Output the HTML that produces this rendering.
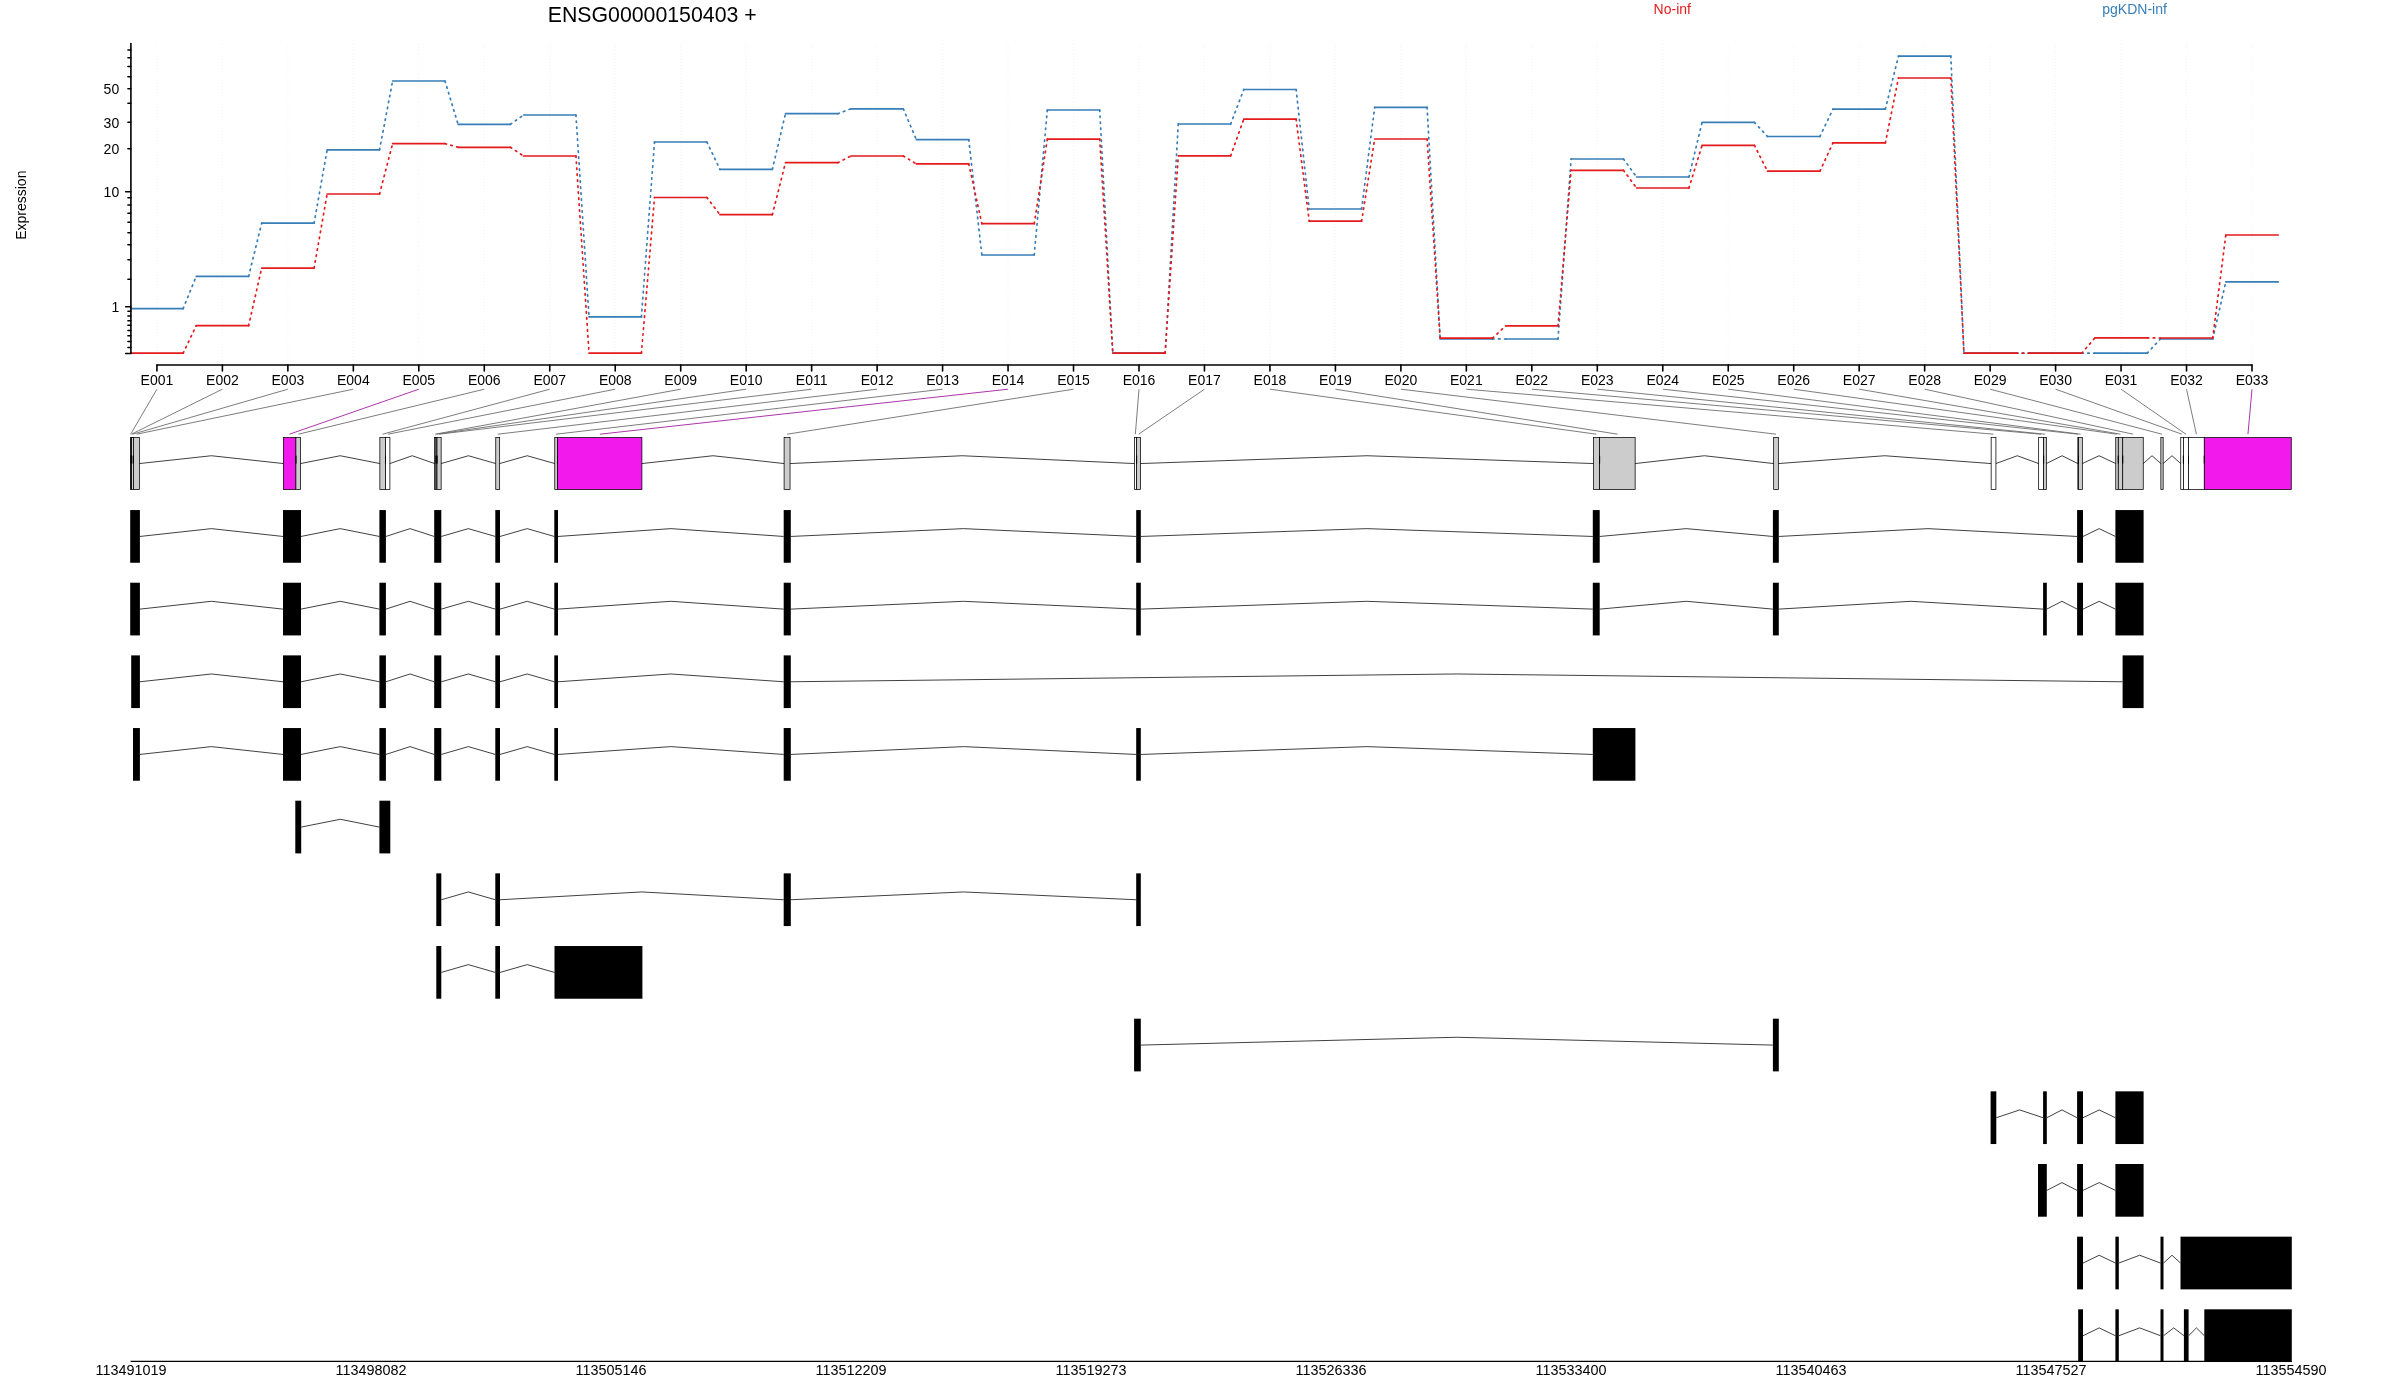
<!DOCTYPE html>
<html><head><meta charset="utf-8"><title>ENSG00000150403</title>
<style>html,body{margin:0;padding:0;background:#fff;}svg{display:block;will-change:transform;}text{font-family:"Liberation Sans", sans-serif;}</style>
</head><body>
<svg width="2400" height="1390" viewBox="0 0 2400 1390" font-family='"Liberation Sans", sans-serif' fill="#000">
<line x1="156.93" y1="44" x2="156.93" y2="364" stroke="#B3B3B3" stroke-opacity="0.28" stroke-width="0.75" stroke-dasharray="0.75 2.25"/>
<line x1="222.40" y1="44" x2="222.40" y2="364" stroke="#B3B3B3" stroke-opacity="0.28" stroke-width="0.75" stroke-dasharray="0.75 2.25"/>
<line x1="287.87" y1="44" x2="287.87" y2="364" stroke="#B3B3B3" stroke-opacity="0.28" stroke-width="0.75" stroke-dasharray="0.75 2.25"/>
<line x1="353.34" y1="44" x2="353.34" y2="364" stroke="#B3B3B3" stroke-opacity="0.28" stroke-width="0.75" stroke-dasharray="0.75 2.25"/>
<line x1="418.81" y1="44" x2="418.81" y2="364" stroke="#F219ED" stroke-opacity="0.18" stroke-width="0.75" stroke-dasharray="0.75 2.25"/>
<line x1="484.28" y1="44" x2="484.28" y2="364" stroke="#B3B3B3" stroke-opacity="0.28" stroke-width="0.75" stroke-dasharray="0.75 2.25"/>
<line x1="549.75" y1="44" x2="549.75" y2="364" stroke="#B3B3B3" stroke-opacity="0.28" stroke-width="0.75" stroke-dasharray="0.75 2.25"/>
<line x1="615.23" y1="44" x2="615.23" y2="364" stroke="#B3B3B3" stroke-opacity="0.28" stroke-width="0.75" stroke-dasharray="0.75 2.25"/>
<line x1="680.70" y1="44" x2="680.70" y2="364" stroke="#B3B3B3" stroke-opacity="0.28" stroke-width="0.75" stroke-dasharray="0.75 2.25"/>
<line x1="746.17" y1="44" x2="746.17" y2="364" stroke="#B3B3B3" stroke-opacity="0.28" stroke-width="0.75" stroke-dasharray="0.75 2.25"/>
<line x1="811.64" y1="44" x2="811.64" y2="364" stroke="#B3B3B3" stroke-opacity="0.28" stroke-width="0.75" stroke-dasharray="0.75 2.25"/>
<line x1="877.11" y1="44" x2="877.11" y2="364" stroke="#B3B3B3" stroke-opacity="0.28" stroke-width="0.75" stroke-dasharray="0.75 2.25"/>
<line x1="942.58" y1="44" x2="942.58" y2="364" stroke="#B3B3B3" stroke-opacity="0.28" stroke-width="0.75" stroke-dasharray="0.75 2.25"/>
<line x1="1008.05" y1="44" x2="1008.05" y2="364" stroke="#F219ED" stroke-opacity="0.18" stroke-width="0.75" stroke-dasharray="0.75 2.25"/>
<line x1="1073.52" y1="44" x2="1073.52" y2="364" stroke="#B3B3B3" stroke-opacity="0.28" stroke-width="0.75" stroke-dasharray="0.75 2.25"/>
<line x1="1138.99" y1="44" x2="1138.99" y2="364" stroke="#B3B3B3" stroke-opacity="0.28" stroke-width="0.75" stroke-dasharray="0.75 2.25"/>
<line x1="1204.46" y1="44" x2="1204.46" y2="364" stroke="#B3B3B3" stroke-opacity="0.28" stroke-width="0.75" stroke-dasharray="0.75 2.25"/>
<line x1="1269.94" y1="44" x2="1269.94" y2="364" stroke="#B3B3B3" stroke-opacity="0.28" stroke-width="0.75" stroke-dasharray="0.75 2.25"/>
<line x1="1335.41" y1="44" x2="1335.41" y2="364" stroke="#B3B3B3" stroke-opacity="0.28" stroke-width="0.75" stroke-dasharray="0.75 2.25"/>
<line x1="1400.88" y1="44" x2="1400.88" y2="364" stroke="#B3B3B3" stroke-opacity="0.28" stroke-width="0.75" stroke-dasharray="0.75 2.25"/>
<line x1="1466.35" y1="44" x2="1466.35" y2="364" stroke="#B3B3B3" stroke-opacity="0.28" stroke-width="0.75" stroke-dasharray="0.75 2.25"/>
<line x1="1531.82" y1="44" x2="1531.82" y2="364" stroke="#B3B3B3" stroke-opacity="0.28" stroke-width="0.75" stroke-dasharray="0.75 2.25"/>
<line x1="1597.29" y1="44" x2="1597.29" y2="364" stroke="#B3B3B3" stroke-opacity="0.28" stroke-width="0.75" stroke-dasharray="0.75 2.25"/>
<line x1="1662.76" y1="44" x2="1662.76" y2="364" stroke="#B3B3B3" stroke-opacity="0.28" stroke-width="0.75" stroke-dasharray="0.75 2.25"/>
<line x1="1728.23" y1="44" x2="1728.23" y2="364" stroke="#B3B3B3" stroke-opacity="0.28" stroke-width="0.75" stroke-dasharray="0.75 2.25"/>
<line x1="1793.70" y1="44" x2="1793.70" y2="364" stroke="#B3B3B3" stroke-opacity="0.28" stroke-width="0.75" stroke-dasharray="0.75 2.25"/>
<line x1="1859.17" y1="44" x2="1859.17" y2="364" stroke="#B3B3B3" stroke-opacity="0.28" stroke-width="0.75" stroke-dasharray="0.75 2.25"/>
<line x1="1924.65" y1="44" x2="1924.65" y2="364" stroke="#B3B3B3" stroke-opacity="0.28" stroke-width="0.75" stroke-dasharray="0.75 2.25"/>
<line x1="1990.12" y1="44" x2="1990.12" y2="364" stroke="#B3B3B3" stroke-opacity="0.28" stroke-width="0.75" stroke-dasharray="0.75 2.25"/>
<line x1="2055.59" y1="44" x2="2055.59" y2="364" stroke="#B3B3B3" stroke-opacity="0.28" stroke-width="0.75" stroke-dasharray="0.75 2.25"/>
<line x1="2121.06" y1="44" x2="2121.06" y2="364" stroke="#B3B3B3" stroke-opacity="0.28" stroke-width="0.75" stroke-dasharray="0.75 2.25"/>
<line x1="2186.53" y1="44" x2="2186.53" y2="364" stroke="#B3B3B3" stroke-opacity="0.28" stroke-width="0.75" stroke-dasharray="0.75 2.25"/>
<line x1="2252.00" y1="44" x2="2252.00" y2="364" stroke="#F219ED" stroke-opacity="0.18" stroke-width="0.75" stroke-dasharray="0.75 2.25"/>
<path d="M183.12 308.60L196.21 276.40M248.59 276.40L261.68 223.20M314.06 223.20L327.15 149.80M379.53 149.80L392.62 81.00M445.00 81.00L458.10 124.30M510.47 124.30L523.57 115.00M575.94 115.00L589.04 316.90M641.41 316.90L654.51 142.00M706.88 142.00L719.98 169.40M772.36 169.40L785.45 113.70M837.83 113.70L850.92 108.80M903.30 108.80L916.39 139.70M968.77 139.70L981.86 255.00M1034.24 255.00L1047.33 110.00M1099.71 110.00L1112.81 353.20M1165.18 353.20L1178.28 124.00M1230.65 124.00L1243.75 89.50M1296.12 89.50L1309.22 209.00M1361.59 209.00L1374.69 107.40M1427.07 107.40L1440.16 338.90M1492.54 338.90L1505.63 339.00M1558.01 339.00L1571.10 159.00M1623.48 159.00L1636.57 177.00M1688.95 177.00L1702.04 122.40M1754.42 122.40L1767.52 136.50M1819.89 136.50L1832.99 109.10M1885.36 109.10L1898.46 56.10M1950.83 56.10L1963.93 353.20M2016.30 353.20L2029.40 353.20M2081.78 353.20L2094.87 353.20M2147.25 353.20L2160.34 339.00M2212.72 339.00L2225.81 281.90" fill="none" stroke="#377EB8" stroke-width="1.7" stroke-dasharray="1.5 4.5" stroke-linecap="round"/>
<path d="M130.74 308.60H183.12M196.21 276.40H248.59M261.68 223.20H314.06M327.15 149.80H379.53M392.62 81.00H445.00M458.10 124.30H510.47M523.57 115.00H575.94M589.04 316.90H641.41M654.51 142.00H706.88M719.98 169.40H772.36M785.45 113.70H837.83M850.92 108.80H903.30M916.39 139.70H968.77M981.86 255.00H1034.24M1047.33 110.00H1099.71M1112.81 353.20H1165.18M1178.28 124.00H1230.65M1243.75 89.50H1296.12M1309.22 209.00H1361.59M1374.69 107.40H1427.07M1440.16 338.90H1492.54M1505.63 339.00H1558.01M1571.10 159.00H1623.48M1636.57 177.00H1688.95M1702.04 122.40H1754.42M1767.52 136.50H1819.89M1832.99 109.10H1885.36M1898.46 56.10H1950.83M1963.93 353.20H2016.30M2029.40 353.20H2081.78M2094.87 353.20H2147.25M2160.34 339.00H2212.72M2225.81 281.90H2278.19" fill="none" stroke="#377EB8" stroke-width="1.7" stroke-linecap="round"/>
<path d="M183.12 353.20L196.21 325.70M248.59 325.70L261.68 268.10M314.06 268.10L327.15 194.00M379.53 194.00L392.62 143.60M445.00 143.60L458.10 147.30M510.47 147.30L523.57 156.00M575.94 156.00L589.04 353.20M641.41 353.20L654.51 197.50M706.88 197.50L719.98 214.70M772.36 214.70L785.45 162.70M837.83 162.70L850.92 156.00M903.30 156.00L916.39 163.90M968.77 163.90L981.86 223.70M1034.24 223.70L1047.33 139.20M1099.71 139.20L1112.81 353.20M1165.18 353.20L1178.28 155.80M1230.65 155.80L1243.75 119.20M1296.12 119.20L1309.22 221.20M1361.59 221.20L1374.69 139.00M1427.07 139.00L1440.16 338.10M1492.54 338.10L1505.63 325.90M1558.01 325.90L1571.10 170.30M1623.48 170.30L1636.57 188.00M1688.95 188.00L1702.04 145.40M1754.42 145.40L1767.52 171.20M1819.89 171.20L1832.99 142.90M1885.36 142.90L1898.46 78.00M1950.83 78.00L1963.93 353.20M2016.30 353.20L2029.40 353.20M2081.78 353.20L2094.87 337.90M2147.25 337.90L2160.34 338.00M2212.72 338.00L2225.81 235.00" fill="none" stroke="#E41A1C" stroke-width="1.7" stroke-dasharray="1.5 4.5" stroke-linecap="round"/>
<path d="M130.74 353.20H183.12M196.21 325.70H248.59M261.68 268.10H314.06M327.15 194.00H379.53M392.62 143.60H445.00M458.10 147.30H510.47M523.57 156.00H575.94M589.04 353.20H641.41M654.51 197.50H706.88M719.98 214.70H772.36M785.45 162.70H837.83M850.92 156.00H903.30M916.39 163.90H968.77M981.86 223.70H1034.24M1047.33 139.20H1099.71M1112.81 353.20H1165.18M1178.28 155.80H1230.65M1243.75 119.20H1296.12M1309.22 221.20H1361.59M1374.69 139.00H1427.07M1440.16 338.10H1492.54M1505.63 325.90H1558.01M1571.10 170.30H1623.48M1636.57 188.00H1688.95M1702.04 145.40H1754.42M1767.52 171.20H1819.89M1832.99 142.90H1885.36M1898.46 78.00H1950.83M1963.93 353.20H2016.30M2029.40 353.20H2081.78M2094.87 337.90H2147.25M2160.34 338.00H2212.72M2225.81 235.00H2278.19" fill="none" stroke="#E41A1C" stroke-width="1.7" stroke-linecap="round"/>
<line x1="130.9" y1="43.6" x2="130.9" y2="353.4" stroke="#000" stroke-width="1.6" stroke-linecap="round"/>
<path d="M130.9 49.9H127.9M130.9 57.8H127.9M130.9 66.5H127.9M130.9 76.7H127.9M130.9 88.8H127.9M130.9 103.3H127.9M130.9 122.2H127.9M130.9 148.8H127.9M130.9 197.8H127.9M130.9 205.1H127.9M130.9 213.3H127.9M130.9 222.3H127.9M130.9 232.8H127.9M130.9 244.8H127.9M130.9 259.8H127.9M130.9 279.3H127.9M130.9 311.2H127.9M130.9 316.0H127.9M130.9 320.7H127.9M130.9 325.3H127.9M130.9 330.4H127.9M130.9 335.8H127.9M130.9 341.4H127.9M130.9 347.6H127.9M130.9 191.8H125.6M130.9 306.7H125.6M130.9 353.4H125.6" stroke="#000" stroke-width="1.5" fill="none" stroke-linecap="round"/>
<text x="119.2" y="94.2" font-size="14.0" text-anchor="end">50</text>
<text x="119.2" y="127.6" font-size="14.0" text-anchor="end">30</text>
<text x="119.2" y="154.2" font-size="14.0" text-anchor="end">20</text>
<text x="119.2" y="197.2" font-size="14.0" text-anchor="end">10</text>
<text x="119.2" y="312.1" font-size="14.0" text-anchor="end">1</text>
<text transform="translate(26.1,205.2) rotate(-90)" font-size="14.0" text-anchor="middle">Expression</text>
<line x1="156.93" y1="365.05" x2="2252.00" y2="365.05" stroke="#000" stroke-width="1.6" stroke-linecap="round"/>
<path d="M156.93 365.05V371.0M222.40 365.05V371.0M287.87 365.05V371.0M353.34 365.05V371.0M418.81 365.05V371.0M484.28 365.05V371.0M549.75 365.05V371.0M615.23 365.05V371.0M680.70 365.05V371.0M746.17 365.05V371.0M811.64 365.05V371.0M877.11 365.05V371.0M942.58 365.05V371.0M1008.05 365.05V371.0M1073.52 365.05V371.0M1138.99 365.05V371.0M1204.46 365.05V371.0M1269.94 365.05V371.0M1335.41 365.05V371.0M1400.88 365.05V371.0M1466.35 365.05V371.0M1531.82 365.05V371.0M1597.29 365.05V371.0M1662.76 365.05V371.0M1728.23 365.05V371.0M1793.70 365.05V371.0M1859.17 365.05V371.0M1924.65 365.05V371.0M1990.12 365.05V371.0M2055.59 365.05V371.0M2121.06 365.05V371.0M2186.53 365.05V371.0M2252.00 365.05V371.0" stroke="#000" stroke-width="1.6" fill="none" stroke-linecap="round"/>
<text x="156.93" y="385.2" font-size="14.0" text-anchor="middle">E001</text>
<text x="222.40" y="385.2" font-size="14.0" text-anchor="middle">E002</text>
<text x="287.87" y="385.2" font-size="14.0" text-anchor="middle">E003</text>
<text x="353.34" y="385.2" font-size="14.0" text-anchor="middle">E004</text>
<text x="418.81" y="385.2" font-size="14.0" text-anchor="middle">E005</text>
<text x="484.28" y="385.2" font-size="14.0" text-anchor="middle">E006</text>
<text x="549.75" y="385.2" font-size="14.0" text-anchor="middle">E007</text>
<text x="615.23" y="385.2" font-size="14.0" text-anchor="middle">E008</text>
<text x="680.70" y="385.2" font-size="14.0" text-anchor="middle">E009</text>
<text x="746.17" y="385.2" font-size="14.0" text-anchor="middle">E010</text>
<text x="811.64" y="385.2" font-size="14.0" text-anchor="middle">E011</text>
<text x="877.11" y="385.2" font-size="14.0" text-anchor="middle">E012</text>
<text x="942.58" y="385.2" font-size="14.0" text-anchor="middle">E013</text>
<text x="1008.05" y="385.2" font-size="14.0" text-anchor="middle">E014</text>
<text x="1073.52" y="385.2" font-size="14.0" text-anchor="middle">E015</text>
<text x="1138.99" y="385.2" font-size="14.0" text-anchor="middle">E016</text>
<text x="1204.46" y="385.2" font-size="14.0" text-anchor="middle">E017</text>
<text x="1269.94" y="385.2" font-size="14.0" text-anchor="middle">E018</text>
<text x="1335.41" y="385.2" font-size="14.0" text-anchor="middle">E019</text>
<text x="1400.88" y="385.2" font-size="14.0" text-anchor="middle">E020</text>
<text x="1466.35" y="385.2" font-size="14.0" text-anchor="middle">E021</text>
<text x="1531.82" y="385.2" font-size="14.0" text-anchor="middle">E022</text>
<text x="1597.29" y="385.2" font-size="14.0" text-anchor="middle">E023</text>
<text x="1662.76" y="385.2" font-size="14.0" text-anchor="middle">E024</text>
<text x="1728.23" y="385.2" font-size="14.0" text-anchor="middle">E025</text>
<text x="1793.70" y="385.2" font-size="14.0" text-anchor="middle">E026</text>
<text x="1859.17" y="385.2" font-size="14.0" text-anchor="middle">E027</text>
<text x="1924.65" y="385.2" font-size="14.0" text-anchor="middle">E028</text>
<text x="1990.12" y="385.2" font-size="14.0" text-anchor="middle">E029</text>
<text x="2055.59" y="385.2" font-size="14.0" text-anchor="middle">E030</text>
<text x="2121.06" y="385.2" font-size="14.0" text-anchor="middle">E031</text>
<text x="2186.53" y="385.2" font-size="14.0" text-anchor="middle">E032</text>
<text x="2252.00" y="385.2" font-size="14.0" text-anchor="middle">E033</text>
<text x="547.7" y="21.9" font-size="21.3">ENSG00000150403 +</text>
<text x="1672.3" y="14.0" font-size="14.0" text-anchor="middle" fill="#E41A1C">No-inf</text>
<text x="2134.6" y="13.8" font-size="14.0" text-anchor="middle" fill="#377EB8">pgKDN-inf</text>
<line x1="156.93" y1="389.2" x2="130.68" y2="434.2" stroke="#666666" stroke-width="0.85"/>
<line x1="222.40" y1="389.2" x2="131.48" y2="434.2" stroke="#666666" stroke-width="0.85"/>
<line x1="287.87" y1="389.2" x2="132.65" y2="434.2" stroke="#666666" stroke-width="0.85"/>
<line x1="353.34" y1="389.2" x2="136.65" y2="434.2" stroke="#666666" stroke-width="0.85"/>
<line x1="418.81" y1="389.2" x2="289.45" y2="434.2" stroke="#9E109B" stroke-width="0.85"/>
<line x1="484.28" y1="389.2" x2="298.40" y2="434.2" stroke="#666666" stroke-width="0.85"/>
<line x1="549.75" y1="389.2" x2="382.50" y2="434.2" stroke="#666666" stroke-width="0.85"/>
<line x1="615.23" y1="389.2" x2="387.88" y2="434.2" stroke="#666666" stroke-width="0.85"/>
<line x1="680.70" y1="389.2" x2="435.12" y2="434.2" stroke="#666666" stroke-width="0.85"/>
<line x1="746.17" y1="389.2" x2="436.50" y2="434.2" stroke="#666666" stroke-width="0.85"/>
<line x1="811.64" y1="389.2" x2="439.25" y2="434.2" stroke="#666666" stroke-width="0.85"/>
<line x1="877.11" y1="389.2" x2="497.70" y2="434.2" stroke="#666666" stroke-width="0.85"/>
<line x1="942.58" y1="389.2" x2="555.95" y2="434.2" stroke="#666666" stroke-width="0.85"/>
<line x1="1008.05" y1="389.2" x2="599.88" y2="434.2" stroke="#9E109B" stroke-width="0.85"/>
<line x1="1073.52" y1="389.2" x2="787.08" y2="434.2" stroke="#666666" stroke-width="0.85"/>
<line x1="1138.99" y1="389.2" x2="1135.35" y2="434.2" stroke="#666666" stroke-width="0.85"/>
<line x1="1204.46" y1="389.2" x2="1138.70" y2="434.2" stroke="#666666" stroke-width="0.85"/>
<line x1="1269.94" y1="389.2" x2="1596.40" y2="434.2" stroke="#666666" stroke-width="0.85"/>
<line x1="1335.41" y1="389.2" x2="1617.55" y2="434.2" stroke="#666666" stroke-width="0.85"/>
<line x1="1400.88" y1="389.2" x2="1776.00" y2="434.2" stroke="#666666" stroke-width="0.85"/>
<line x1="1466.35" y1="389.2" x2="1993.53" y2="434.2" stroke="#666666" stroke-width="0.85"/>
<line x1="1531.82" y1="389.2" x2="2040.95" y2="434.2" stroke="#666666" stroke-width="0.85"/>
<line x1="1597.29" y1="389.2" x2="2045.15" y2="434.2" stroke="#666666" stroke-width="0.85"/>
<line x1="1662.76" y1="389.2" x2="2078.00" y2="434.2" stroke="#666666" stroke-width="0.85"/>
<line x1="1728.23" y1="389.2" x2="2080.60" y2="434.2" stroke="#666666" stroke-width="0.85"/>
<line x1="1793.70" y1="389.2" x2="2116.85" y2="434.2" stroke="#666666" stroke-width="0.85"/>
<line x1="1859.17" y1="389.2" x2="2120.50" y2="434.2" stroke="#666666" stroke-width="0.85"/>
<line x1="1924.65" y1="389.2" x2="2133.15" y2="434.2" stroke="#666666" stroke-width="0.85"/>
<line x1="1990.12" y1="389.2" x2="2162.00" y2="434.2" stroke="#666666" stroke-width="0.85"/>
<line x1="2055.59" y1="389.2" x2="2181.90" y2="434.2" stroke="#666666" stroke-width="0.85"/>
<line x1="2121.06" y1="389.2" x2="2185.95" y2="434.2" stroke="#666666" stroke-width="0.85"/>
<line x1="2186.53" y1="389.2" x2="2196.40" y2="434.2" stroke="#666666" stroke-width="0.85"/>
<line x1="2252.00" y1="389.2" x2="2247.95" y2="434.2" stroke="#9E109B" stroke-width="0.85"/>
<rect x="130.55" y="437.55" width="0.60" height="52.0" fill="#CCCCCC" stroke="#000" stroke-width="0.75"/>
<rect x="131.15" y="437.55" width="0.65" height="52.0" fill="#CCCCCC" stroke="#000" stroke-width="0.75"/>
<rect x="131.80" y="437.55" width="1.70" height="52.0" fill="#FFFFFF" stroke="#000" stroke-width="0.75"/>
<rect x="133.50" y="437.55" width="5.95" height="52.0" fill="#CCCCCC" stroke="#000" stroke-width="0.75"/>
<rect x="283.35" y="437.55" width="12.55" height="52.0" fill="#F219ED" stroke="#000" stroke-width="0.75"/>
<rect x="295.90" y="437.55" width="4.65" height="52.0" fill="#CCCCCC" stroke="#000" stroke-width="0.75"/>
<rect x="379.85" y="437.55" width="5.65" height="52.0" fill="#CCCCCC" stroke="#000" stroke-width="0.75"/>
<rect x="385.50" y="437.55" width="4.40" height="52.0" fill="#FFFFFF" stroke="#000" stroke-width="0.75"/>
<rect x="434.60" y="437.55" width="1.40" height="52.0" fill="#CCCCCC" stroke="#000" stroke-width="0.75"/>
<rect x="436.00" y="437.55" width="1.00" height="52.0" fill="#CCCCCC" stroke="#000" stroke-width="0.75"/>
<rect x="437.00" y="437.55" width="4.15" height="52.0" fill="#CCCCCC" stroke="#000" stroke-width="0.75"/>
<rect x="495.75" y="437.55" width="3.90" height="52.0" fill="#CCCCCC" stroke="#000" stroke-width="0.75"/>
<rect x="554.75" y="437.55" width="2.75" height="52.0" fill="#CCCCCC" stroke="#000" stroke-width="0.75"/>
<rect x="557.50" y="437.55" width="84.40" height="52.0" fill="#F219ED" stroke="#000" stroke-width="0.75"/>
<rect x="784.10" y="437.55" width="5.95" height="52.0" fill="#CCCCCC" stroke="#000" stroke-width="0.75"/>
<rect x="1134.45" y="437.55" width="2.15" height="52.0" fill="#FFFFFF" stroke="#000" stroke-width="0.75"/>
<rect x="1136.60" y="437.55" width="3.85" height="52.0" fill="#CCCCCC" stroke="#000" stroke-width="0.75"/>
<rect x="1593.55" y="437.55" width="6.05" height="52.0" fill="#CCCCCC" stroke="#000" stroke-width="0.75"/>
<rect x="1599.60" y="437.55" width="35.55" height="52.0" fill="#CCCCCC" stroke="#000" stroke-width="0.75"/>
<rect x="1773.65" y="437.55" width="4.70" height="52.0" fill="#CCCCCC" stroke="#000" stroke-width="0.75"/>
<rect x="1991.15" y="437.55" width="4.75" height="52.0" fill="#FFFFFF" stroke="#000" stroke-width="0.75"/>
<rect x="2038.65" y="437.55" width="4.95" height="52.0" fill="#FFFFFF" stroke="#000" stroke-width="0.75"/>
<rect x="2043.60" y="437.55" width="2.75" height="52.0" fill="#CCCCCC" stroke="#000" stroke-width="0.75"/>
<rect x="2077.85" y="437.55" width="0.65" height="52.0" fill="#CCCCCC" stroke="#000" stroke-width="0.75"/>
<rect x="2078.50" y="437.55" width="3.85" height="52.0" fill="#CCCCCC" stroke="#000" stroke-width="0.75"/>
<rect x="2115.75" y="437.55" width="2.55" height="52.0" fill="#CCCCCC" stroke="#000" stroke-width="0.75"/>
<rect x="2118.30" y="437.55" width="4.40" height="52.0" fill="#CCCCCC" stroke="#000" stroke-width="0.75"/>
<rect x="2122.70" y="437.55" width="20.55" height="52.0" fill="#CCCCCC" stroke="#000" stroke-width="0.75"/>
<rect x="2160.85" y="437.55" width="2.30" height="52.0" fill="#CCCCCC" stroke="#000" stroke-width="0.75"/>
<rect x="2180.75" y="437.55" width="2.65" height="52.0" fill="#FFFFFF" stroke="#000" stroke-width="0.75"/>
<rect x="2183.40" y="437.55" width="5.10" height="52.0" fill="#FFFFFF" stroke="#000" stroke-width="0.75"/>
<rect x="2188.50" y="437.55" width="15.80" height="52.0" fill="#FFFFFF" stroke="#000" stroke-width="0.75"/>
<rect x="2204.30" y="437.55" width="86.95" height="52.0" fill="#F219ED" stroke="#000" stroke-width="0.75"/>
<path d="M131.15 463.55L131.15 455.74L131.15 463.55M131.80 463.55L131.80 455.74L131.80 463.55M133.50 463.55L133.50 455.74L133.50 463.55M139.45 463.55L211.40 455.74L283.35 463.55M295.90 463.55L295.90 455.74L295.90 463.55M300.55 463.55L340.20 455.74L379.85 463.55M385.50 463.55L385.50 455.74L385.50 463.55M389.90 463.55L412.25 455.74L434.60 463.55M436.00 463.55L436.00 455.74L436.00 463.55M437.00 463.55L437.00 455.74L437.00 463.55M441.15 463.55L468.45 455.74L495.75 463.55M499.65 463.55L527.20 455.74L554.75 463.55M557.50 463.55L557.50 455.74L557.50 463.55M641.90 463.55L713.00 455.74L784.10 463.55M790.05 463.55L962.25 455.74L1134.45 463.55M1136.60 463.55L1136.60 455.74L1136.60 463.55M1140.45 463.55L1367.00 455.74L1593.55 463.55M1599.60 463.55L1599.60 455.74L1599.60 463.55M1635.15 463.55L1704.40 455.74L1773.65 463.55M1778.35 463.55L1884.75 455.74L1991.15 463.55M1995.90 463.55L2017.28 455.74L2038.65 463.55M2043.60 463.55L2043.60 455.74L2043.60 463.55M2046.35 463.55L2062.10 455.74L2077.85 463.55M2078.50 463.55L2078.50 455.74L2078.50 463.55M2082.35 463.55L2099.05 455.74L2115.75 463.55M2118.30 463.55L2118.30 455.74L2118.30 463.55M2122.70 463.55L2122.70 455.74L2122.70 463.55M2143.25 463.55L2152.05 455.74L2160.85 463.55M2163.15 463.55L2171.95 455.74L2180.75 463.55M2183.40 463.55L2183.40 455.74L2183.40 463.55M2188.50 463.55L2188.50 455.74L2188.50 463.55M2204.30 463.55L2204.30 455.74L2204.30 463.55" fill="none" stroke="#000" stroke-width="0.75" stroke-linejoin="round"/>
<path d="M139.90 536.46L211.45 528.64L283.00 536.46M301.00 536.46L340.20 528.64L379.40 536.46M385.90 536.46L410.05 528.64L434.20 536.46M441.30 536.46L468.30 528.64L495.30 536.46M500.00 536.46L527.15 528.64L554.30 536.46M558.00 536.46L670.85 528.64L783.70 536.46M790.80 536.46L963.50 528.64L1136.20 536.46M1140.80 536.46L1366.80 528.64L1592.80 536.46M1599.70 536.46L1686.30 528.64L1772.90 536.46M1778.80 536.46L1927.95 528.64L2077.10 536.46M2083.00 536.46L2099.20 528.64L2115.40 536.46" fill="none" stroke="#000" stroke-width="0.75" stroke-linejoin="round"/>
<rect x="130.20" y="510.06" width="9.70" height="52.7" fill="#000"/>
<rect x="283.00" y="510.06" width="18.00" height="52.7" fill="#000"/>
<rect x="379.40" y="510.06" width="6.50" height="52.7" fill="#000"/>
<rect x="434.20" y="510.06" width="7.10" height="52.7" fill="#000"/>
<rect x="495.30" y="510.06" width="4.70" height="52.7" fill="#000"/>
<rect x="554.30" y="510.06" width="3.70" height="52.7" fill="#000"/>
<rect x="783.70" y="510.06" width="7.10" height="52.7" fill="#000"/>
<rect x="1136.20" y="510.06" width="4.60" height="52.7" fill="#000"/>
<rect x="1592.80" y="510.06" width="6.90" height="52.7" fill="#000"/>
<rect x="1772.90" y="510.06" width="5.90" height="52.7" fill="#000"/>
<rect x="2077.10" y="510.06" width="5.90" height="52.7" fill="#000"/>
<rect x="2115.40" y="510.06" width="28.20" height="52.7" fill="#000"/>
<path d="M139.90 609.12L211.45 601.30L283.00 609.12M301.00 609.12L340.20 601.30L379.40 609.12M385.90 609.12L410.05 601.30L434.20 609.12M441.30 609.12L468.30 601.30L495.30 609.12M500.00 609.12L527.15 601.30L554.30 609.12M558.00 609.12L670.85 601.30L783.70 609.12M790.80 609.12L963.50 601.30L1136.20 609.12M1140.80 609.12L1366.80 601.30L1592.80 609.12M1599.70 609.12L1686.30 601.30L1772.90 609.12M1778.80 609.12L1910.95 601.30L2043.10 609.12M2046.80 609.12L2061.95 601.30L2077.10 609.12M2083.00 609.12L2099.20 601.30L2115.40 609.12" fill="none" stroke="#000" stroke-width="0.75" stroke-linejoin="round"/>
<rect x="130.20" y="582.72" width="9.70" height="52.7" fill="#000"/>
<rect x="283.00" y="582.72" width="18.00" height="52.7" fill="#000"/>
<rect x="379.40" y="582.72" width="6.50" height="52.7" fill="#000"/>
<rect x="434.20" y="582.72" width="7.10" height="52.7" fill="#000"/>
<rect x="495.30" y="582.72" width="4.70" height="52.7" fill="#000"/>
<rect x="554.30" y="582.72" width="3.70" height="52.7" fill="#000"/>
<rect x="783.70" y="582.72" width="7.10" height="52.7" fill="#000"/>
<rect x="1136.20" y="582.72" width="4.60" height="52.7" fill="#000"/>
<rect x="1592.80" y="582.72" width="6.90" height="52.7" fill="#000"/>
<rect x="1772.90" y="582.72" width="5.90" height="52.7" fill="#000"/>
<rect x="2043.10" y="582.72" width="3.70" height="52.7" fill="#000"/>
<rect x="2077.10" y="582.72" width="5.90" height="52.7" fill="#000"/>
<rect x="2115.40" y="582.72" width="28.20" height="52.7" fill="#000"/>
<path d="M139.90 681.78L211.45 673.97L283.00 681.78M301.00 681.78L340.20 673.97L379.40 681.78M385.90 681.78L410.05 673.97L434.20 681.78M441.30 681.78L468.30 673.97L495.30 681.78M500.00 681.78L527.15 673.97L554.30 681.78M558.00 681.78L670.85 673.97L783.70 681.78M790.80 681.78L1456.70 673.97L2122.60 681.78" fill="none" stroke="#000" stroke-width="0.75" stroke-linejoin="round"/>
<rect x="131.20" y="655.38" width="8.70" height="52.7" fill="#000"/>
<rect x="283.00" y="655.38" width="18.00" height="52.7" fill="#000"/>
<rect x="379.40" y="655.38" width="6.50" height="52.7" fill="#000"/>
<rect x="434.20" y="655.38" width="7.10" height="52.7" fill="#000"/>
<rect x="495.30" y="655.38" width="4.70" height="52.7" fill="#000"/>
<rect x="554.30" y="655.38" width="3.70" height="52.7" fill="#000"/>
<rect x="783.70" y="655.38" width="7.10" height="52.7" fill="#000"/>
<rect x="2122.60" y="655.38" width="21.00" height="52.7" fill="#000"/>
<path d="M139.90 754.44L211.45 746.62L283.00 754.44M301.00 754.44L340.20 746.62L379.40 754.44M385.90 754.44L410.05 746.62L434.20 754.44M441.30 754.44L468.30 746.62L495.30 754.44M500.00 754.44L527.15 746.62L554.30 754.44M558.00 754.44L670.85 746.62L783.70 754.44M790.80 754.44L963.50 746.62L1136.20 754.44M1140.80 754.44L1366.80 746.62L1592.80 754.44" fill="none" stroke="#000" stroke-width="0.75" stroke-linejoin="round"/>
<rect x="133.00" y="728.04" width="6.90" height="52.7" fill="#000"/>
<rect x="283.00" y="728.04" width="18.00" height="52.7" fill="#000"/>
<rect x="379.40" y="728.04" width="6.50" height="52.7" fill="#000"/>
<rect x="434.20" y="728.04" width="7.10" height="52.7" fill="#000"/>
<rect x="495.30" y="728.04" width="4.70" height="52.7" fill="#000"/>
<rect x="554.30" y="728.04" width="3.70" height="52.7" fill="#000"/>
<rect x="783.70" y="728.04" width="7.10" height="52.7" fill="#000"/>
<rect x="1136.20" y="728.04" width="4.60" height="52.7" fill="#000"/>
<rect x="1592.80" y="728.04" width="42.60" height="52.7" fill="#000"/>
<path d="M301.20 827.10L340.30 819.28L379.40 827.10" fill="none" stroke="#000" stroke-width="0.75" stroke-linejoin="round"/>
<rect x="295.30" y="800.70" width="5.90" height="52.7" fill="#000"/>
<rect x="379.40" y="800.70" width="10.90" height="52.7" fill="#000"/>
<path d="M441.30 899.76L468.30 891.95L495.30 899.76M500.00 899.76L641.85 891.95L783.70 899.76M790.80 899.76L963.50 891.95L1136.20 899.76" fill="none" stroke="#000" stroke-width="0.75" stroke-linejoin="round"/>
<rect x="436.30" y="873.36" width="5.00" height="52.7" fill="#000"/>
<rect x="495.30" y="873.36" width="4.70" height="52.7" fill="#000"/>
<rect x="783.70" y="873.36" width="7.10" height="52.7" fill="#000"/>
<rect x="1136.20" y="873.36" width="4.60" height="52.7" fill="#000"/>
<path d="M441.30 972.42L468.30 964.61L495.30 972.42M500.00 972.42L527.25 964.61L554.50 972.42" fill="none" stroke="#000" stroke-width="0.75" stroke-linejoin="round"/>
<rect x="436.30" y="946.02" width="5.00" height="52.7" fill="#000"/>
<rect x="495.30" y="946.02" width="4.70" height="52.7" fill="#000"/>
<rect x="554.50" y="946.02" width="87.90" height="52.7" fill="#000"/>
<path d="M1140.80 1045.08L1456.85 1037.26L1772.90 1045.08" fill="none" stroke="#000" stroke-width="0.75" stroke-linejoin="round"/>
<rect x="1134.10" y="1018.68" width="6.70" height="52.7" fill="#000"/>
<rect x="1772.90" y="1018.68" width="5.90" height="52.7" fill="#000"/>
<path d="M1996.30 1117.74L2019.70 1109.92L2043.10 1117.74M2046.80 1117.74L2061.95 1109.92L2077.10 1117.74M2083.00 1117.74L2099.20 1109.92L2115.40 1117.74" fill="none" stroke="#000" stroke-width="0.75" stroke-linejoin="round"/>
<rect x="1990.60" y="1091.34" width="5.70" height="52.7" fill="#000"/>
<rect x="2043.10" y="1091.34" width="3.70" height="52.7" fill="#000"/>
<rect x="2077.10" y="1091.34" width="5.90" height="52.7" fill="#000"/>
<rect x="2115.40" y="1091.34" width="28.20" height="52.7" fill="#000"/>
<path d="M2046.80 1190.40L2061.95 1182.58L2077.10 1190.40M2083.00 1190.40L2099.20 1182.58L2115.40 1190.40" fill="none" stroke="#000" stroke-width="0.75" stroke-linejoin="round"/>
<rect x="2038.00" y="1164.00" width="8.80" height="52.7" fill="#000"/>
<rect x="2077.10" y="1164.00" width="5.90" height="52.7" fill="#000"/>
<rect x="2115.40" y="1164.00" width="28.20" height="52.7" fill="#000"/>
<path d="M2083.00 1263.06L2099.20 1255.24L2115.40 1263.06M2118.80 1263.06L2139.65 1255.24L2160.50 1263.06M2163.50 1263.06L2172.00 1255.24L2180.50 1263.06" fill="none" stroke="#000" stroke-width="0.75" stroke-linejoin="round"/>
<rect x="2077.10" y="1236.66" width="5.90" height="52.7" fill="#000"/>
<rect x="2115.40" y="1236.66" width="3.40" height="52.7" fill="#000"/>
<rect x="2160.50" y="1236.66" width="3.00" height="52.7" fill="#000"/>
<rect x="2180.50" y="1236.66" width="111.30" height="52.7" fill="#000"/>
<path d="M2083.00 1335.72L2099.20 1327.90L2115.40 1335.72M2118.80 1335.72L2139.65 1327.90L2160.50 1335.72M2163.50 1335.72L2173.70 1327.90L2183.90 1335.72M2188.60 1335.72L2196.45 1327.90L2204.30 1335.72" fill="none" stroke="#000" stroke-width="0.75" stroke-linejoin="round"/>
<rect x="2078.20" y="1309.32" width="4.80" height="52.7" fill="#000"/>
<rect x="2115.40" y="1309.32" width="3.40" height="52.7" fill="#000"/>
<rect x="2160.50" y="1309.32" width="3.00" height="52.7" fill="#000"/>
<rect x="2183.90" y="1309.32" width="4.70" height="52.7" fill="#000"/>
<rect x="2204.30" y="1309.32" width="87.50" height="52.7" fill="#000"/>
<line x1="130.6" y1="1361.4" x2="2291.8" y2="1361.4" stroke="#000" stroke-width="1.2"/>
<text x="131.0" y="1375.1" font-size="14.4" text-anchor="middle">113491019</text>
<text x="371.0" y="1375.1" font-size="14.4" text-anchor="middle">113498082</text>
<text x="611.0" y="1375.1" font-size="14.4" text-anchor="middle">113505146</text>
<text x="851.0" y="1375.1" font-size="14.4" text-anchor="middle">113512209</text>
<text x="1091.0" y="1375.1" font-size="14.4" text-anchor="middle">113519273</text>
<text x="1331.0" y="1375.1" font-size="14.4" text-anchor="middle">113526336</text>
<text x="1571.0" y="1375.1" font-size="14.4" text-anchor="middle">113533400</text>
<text x="1811.0" y="1375.1" font-size="14.4" text-anchor="middle">113540463</text>
<text x="2051.0" y="1375.1" font-size="14.4" text-anchor="middle">113547527</text>
<text x="2291.0" y="1375.1" font-size="14.4" text-anchor="middle">113554590</text>
</svg>
</body></html>
